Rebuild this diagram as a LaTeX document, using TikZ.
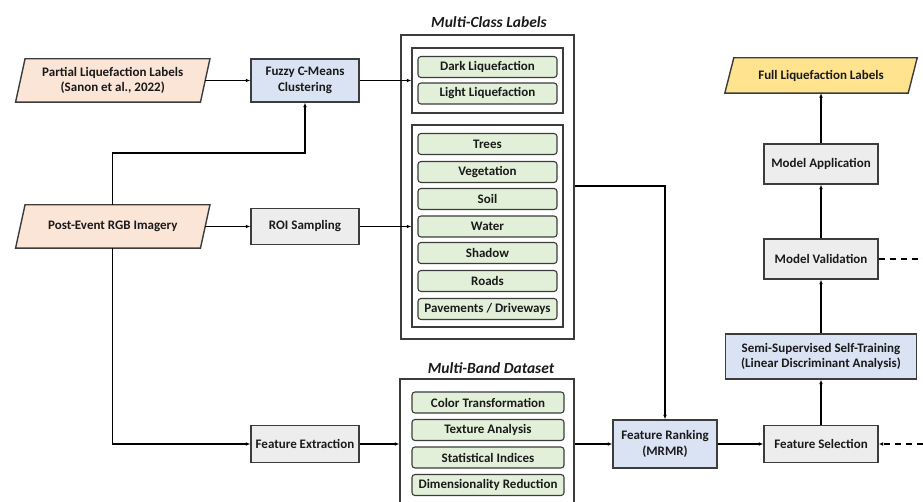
\documentclass[tikz,border=0pt]{standalone}
\usepackage{fontspec}
\setmainfont{Carlito}
\usetikzlibrary{arrows.meta,backgrounds}
\definecolor{bd}{HTML}{3C3C3C}
\definecolor{txt}{HTML}{1A1A1A}
\definecolor{peach}{HTML}{FBE5D6}
\definecolor{bluef}{HTML}{DAE3F3}
\definecolor{grayf}{HTML}{EDEDED}
\definecolor{greenf}{HTML}{E2F0D9}
\definecolor{yellowf}{HTML}{FFE38F}
\begin{document}
\begin{tikzpicture}[x=1pt,y=-1pt,
  base/.style={inner sep=0pt, align=center, text=txt, font=\bfseries\fontsize{13}{15.5}\selectfont},
  box/.style={base, draw=bd, line width=1.4pt, minimum width=#1},
  bluebox/.style={box=#1, fill=bluef},
  graybox/.style={box=#1, fill=grayf},
  para/.style={base, minimum width=#1},
  grn/.style={base, draw=bd, line width=1.1pt, fill=greenf, rounded corners=3pt, minimum height=21pt},
  frame/.style={draw=bd, line width=1.4pt, fill=white, inner sep=0pt},
  ttl/.style={inner sep=0pt, text=txt, font=\bfseries\itshape\fontsize{15.5}{18}\selectfont},
  arr/.style={draw=black, line width=1.3pt, -{Latex[length=4.5pt,width=3.8pt]}},
  dsh/.style={draw=black, line width=1.3pt, dash pattern=on 6pt off 5pt}]
\useasboundingbox (0,0) rectangle (923,502);

% inputs
\node[para=184.5, minimum height=43pt] (pl) at (112.75,80.5) {Partial Liquefaction Labels\\(Sanon et al., 2022)};
\node[para=184.5, minimum height=43pt] (pe) at (112.75,226.5) {Post-Event RGB Imagery};
\node[para=183, minimum height=35pt] (fl) at (821,75.5) {Full Liquefaction Labels};

% processing boxes
\node[bluebox=108, minimum height=43pt] (fcm) at (305,80.5) {Fuzzy C-Means\\Clustering};
\node[graybox=108, minimum height=36pt] (roi) at (305,226.5) {ROI Sampling};
\node[graybox=108, minimum height=37pt] (fe) at (305,444) {Feature Extraction};
\node[bluebox=104, minimum height=48pt] (fr) at (665,444) {Feature Ranking\\(MRMR)};
\node[graybox=114, minimum height=37pt] (fs) at (821,444) {Feature Selection};
\node[bluebox=191, minimum height=45pt] (sst) at (821,356.5) {Semi-Supervised Self-Training\\(Linear Discriminant Analysis)};
\node[graybox=114, minimum height=40pt] (mv) at (821,259) {Model Validation};
\node[graybox=114, minimum height=40pt] (ma) at (821,164) {Model Application};

% multi-class labels
\node[ttl] (mclt) at (489,22) {Multi-Class Labels};
\node[frame, minimum width=173pt, minimum height=304pt] (mcl) at (487.5,187) {};
\node[frame, minimum width=151pt, minimum height=65pt] (liq) at (487.5,80.5) {};
\node[frame, minimum width=151pt, minimum height=202pt] (cls) at (487.5,226) {};
\node[grn, minimum width=139pt] (dl) at (487.5,67) {Dark Liquefaction};
\node[grn, minimum width=139pt] (ll) at (487.5,93.5) {Light Liquefaction};
\node[grn, minimum width=139pt] (tr) at (487.5,144) {Trees};
\node[grn, minimum width=139pt] (vg) at (487.5,172) {Vegetation};
\node[grn, minimum width=139pt] (so) at (487.5,199) {Soil};
\node[grn, minimum width=139pt] (wa) at (487.5,226.5) {Water};
\node[grn, minimum width=139pt] (sh) at (487.5,253) {Shadow};
\node[grn, minimum width=139pt] (ro) at (487.5,281) {Roads};
\node[grn, minimum width=139pt] (pv) at (487.5,309) {Pavements / Driveways};

% multi-band dataset (its bottom edge lies below the picture)
\node[ttl] (mbdt) at (491,368) {Multi-Band Dataset};
\node[frame, minimum width=174pt, minimum height=129pt] (mbd) at (487,443.5) {};
\node[grn, minimum width=152pt] (ct) at (488,402.5) {Color Transformation};
\node[grn, minimum width=152pt] (ta) at (488,430) {Texture Analysis};
\node[grn, minimum width=152pt] (si) at (488,457.5) {Statistical Indices};
\node[grn, minimum width=152pt] (dr) at (488,485) {Dimensionality Reduction};

% parallelogram outlines
\begin{scope}[on background layer]
\foreach \n/\s/\c in {pl/4.75/peach, pe/4.75/peach, fl/4.5/yellowf}
  \draw[draw=bd, line width=1.4pt, fill=\c]
    ([xshift=\s pt]\n.north west) -- ([xshift=\s pt]\n.north east) --
    ([xshift=-\s pt]\n.south east) -- ([xshift=-\s pt]\n.south west) -- cycle;
\end{scope}

% connectors
\draw[arr] (pl.east) -- (fcm.west);
\draw[arr] (pe.north) -- (pe.north |- 0,153) -| (fcm.south);
\draw[arr] (pe.east) -- (roi.west);
\draw[arr] (pe.south) |- (fe.west);
\draw[arr] (fcm.east) -- (liq.west);
\draw[arr] (roi.east) -- (cls.west |- roi.east);
\draw[arr] (mcl.east |- 0,186) -| (fr.north);
\draw[arr] (fe.east) -- (mbd.west |- fe.east);
\draw[arr] (mbd.east |- fr.west) -- (fr.west);
\draw[arr] (fr.east) -- (fs.west);
\draw[arr] (fs.north) -- (sst.south);
\draw[arr] (sst.north) -- (mv.south);
\draw[arr] (mv.north) -- (ma.south);
\draw[arr] (ma.north) -- (fl.south);
\coordinate (mvr) at (923,259);
\coordinate (fsr) at (923,444);
\draw[dsh] (mv.east) -- (mvr);
\draw[dsh, -{Latex[length=4.5pt,width=3.8pt]}] (fsr) -- (fs.east);
\end{tikzpicture}
\end{document}
